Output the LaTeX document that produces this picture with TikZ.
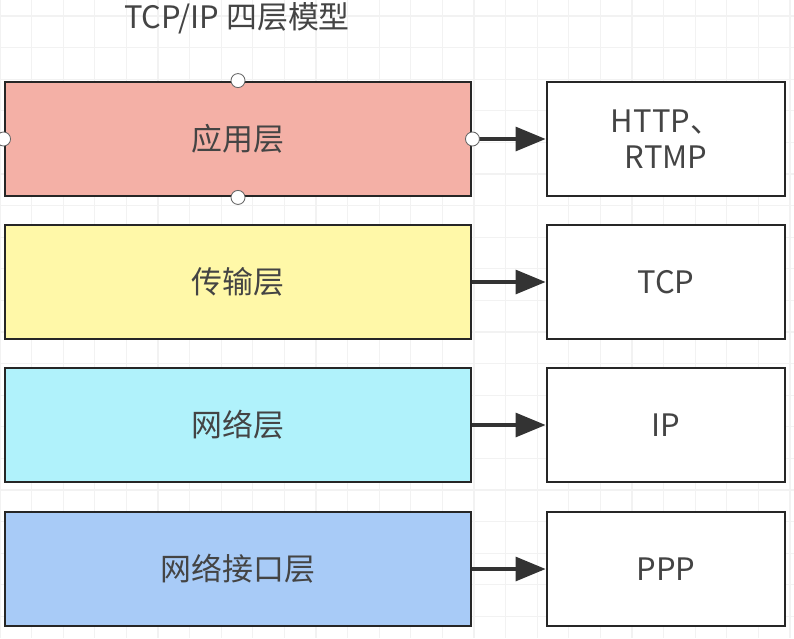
\documentclass[tikz,border=0pt]{standalone}
\usepackage{fontspec}
\setmainfont{Noto Sans CJK SC}
\usetikzlibrary{arrows.meta}

\definecolor{appred}{HTML}{F4B0A6}
\definecolor{transyellow}{HTML}{FFF8A8}
\definecolor{netcyan}{HTML}{B0F2FB}
\definecolor{linkblue}{HTML}{A8CBF7}
\definecolor{txtgray}{HTML}{444444}

\tikzset{
  layer/.style={draw=black!85, line width=2pt, minimum width=11.65cm, minimum height=2.85cm,
    text=txtgray, font=\fontsize{22}{26}\selectfont},
  proto/.style={layer, fill=white, minimum width=5.95cm, align=center},
  handle/.style={circle, draw=black!60, fill=white, line width=0.6pt, inner sep=0pt, minimum size=0.35cm},
  layerarrow/.style={color=black!80, line width=2.2pt, -{Triangle[length=0.75cm, width=0.6cm]}}
}

\begin{document}
\begin{tikzpicture}[x=0.025cm, y=-0.025cm]

    \useasboundingbox (0,0) rectangle (794,638);
    \fill[white] (0,0) rectangle (794,638);
    \foreach \x in {0,...,25} \draw[black!5, line width=0.8pt] (31.6*\x,0) -- (31.6*\x,638);
    \foreach \y in {0,...,20} \draw[black!5, line width=0.8pt] (0,16+31.6*\y) -- (794,16+31.6*\y);

    \node[text=txtgray, font=\fontsize{22}{26}\selectfont] (title) at (237,18) {TCP/IP 四层模型};

    \node[layer, fill=appred]      (app)   at (238,139) {应用层};
    \node[layer, fill=transyellow] (trans) at (238,282) {传输层};
    \node[layer, fill=netcyan]     (net)   at (238,425) {网络层};
    \node[layer, fill=linkblue]    (iface) at (238,569) {网络接口层};

    \node[proto] (appP)   at (666,139) {HTTP、\\RTMP};
    \node[proto] (transP) at (666,282) {TCP};
    \node[proto] (netP)   at (666,425) {IP};
    \node[proto] (ifaceP) at (666,569) {PPP};

    \draw[layerarrow] (app.east) -- (appP.west);
    \draw[layerarrow] (trans.east) -- (transP.west);
    \draw[layerarrow] (net.east) -- (netP.west);
    \draw[layerarrow] (iface.east) -- (ifaceP.west);

    \foreach \a in {north,south,east,west} \node[handle] (h\a) at (app.\a) {};

\end{tikzpicture}
\end{document}
